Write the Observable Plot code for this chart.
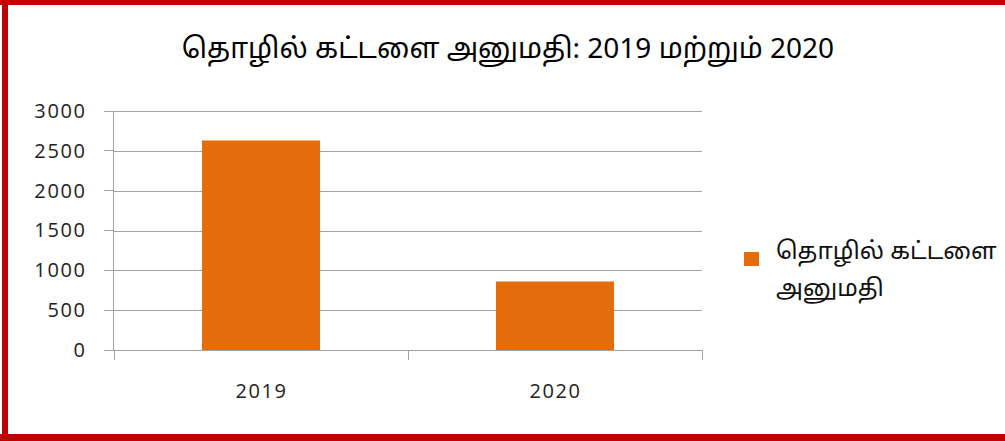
<!DOCTYPE html>
<html>
<head>
<meta charset="utf-8">
<script src="https://cdn.jsdelivr.net/npm/d3@7"></script>
<script src="https://cdn.jsdelivr.net/npm/@observablehq/plot@0.6"></script>
<style>
html, body { margin: 0; padding: 0; background: #fff; }
#wrap { position: relative; width: 1005px; height: 441px; overflow: hidden; background: #fff; }
#chart { position: absolute; left: 0; top: 0; }
#title { position: absolute; left: 8px; width: 1000px; top: 34px; text-align: center;
  font-family: "Noto Sans Tamil", "Latha", "Liberation Sans", Arial, sans-serif; font-size: 28px; color: #000; white-space: nowrap; }
#legend { position: absolute; left: 744px; top: 235px; font-family: "Noto Sans Tamil", "Latha", "Noto Sans", sans-serif; font-size: 24px; color: #111; }
#legend .sw { position: absolute; left: 0; top: 17px; width: 15px; height: 14px; }
#legend .lbl { position: absolute; left: 32px; top: 0; width: 240px; line-height: 37px; }
.bd { position: absolute; background: #C00000; }
</style>
</head>
<body>
<div id="wrap">
  <div id="chart"></div>
  <div id="title"></div>
  <div id="legend"><div class="sw"></div><div class="lbl"></div></div>
  <div class="bd" style="left:2px;top:0;width:6px;height:441px"></div>
  <div class="bd" style="left:0;top:0;width:1005px;height:5px"></div>
  <div class="bd" style="left:0;top:434px;width:1005px;height:7px"></div>
</div>
<script>
const years = ["2019", "2020"];
const permits = [2630, 860];
const yTicks = [0, 500, 1000, 1500, 2000, 2500, 3000];
const titleText = "தொழில் கட்டளை அனுமதி: 2019 மற்றும் 2020";
const seriesName = "தொழில் கட்டளை அனுமதி";
const barColor = "#E46C0A";
const gridColor = "#a3a3a3";

const data = years.map((y, i) => ({year: y, value: permits[i]}));

function axisDecor(index, scales, values, dim) {
  const x = scales.x, y = scales.y;
  const sx = scales.scales && scales.scales.x;
  const bw = sx && sx.bandwidth != null ? sx.bandwidth : (x.bandwidth ? x.bandwidth() : 0);
  const step = sx && sx.step != null ? sx.step : (x.step ? x.step() : 0);
  const g = d3.create("svg:g").attr("stroke", gridColor).attr("stroke-width", 1).attr("fill", "none").attr("shape-rendering", "crispEdges");
  const left = dim.marginLeft, bottom = dim.height - dim.marginBottom, top = dim.marginTop;
  g.append("line").attr("x1", left).attr("x2", left).attr("y1", top).attr("y2", bottom);
  for (const t of yTicks) {
    g.append("line").attr("x1", left - 9).attr("x2", left).attr("y1", y(t)).attr("y2", y(t));
  }
  const bounds = years.map(c => x(c) + bw / 2 - step / 2);
  bounds.push(x(years[years.length - 1]) + bw / 2 + step / 2);
  for (const b of bounds) {
    g.append("line").attr("x1", b).attr("x2", b).attr("y1", bottom).attr("y2", bottom + 10);
  }
  return g.node();
}

const chart = Plot.plot({
  width: 1005,
  height: 441,
  marginLeft: 113,
  marginRight: 303,
  marginTop: 111,
  marginBottom: 91,
  style: {fontFamily: "'Open Sans', Lato, sans-serif", fontSize: "20px", color: "#222", background: "transparent", letterSpacing: "1.6px"},
  x: {domain: years, paddingInner: 0.6, paddingOuter: 0.3, label: null},
  y: {domain: [0, 3000], label: null},
  marks: [
    Plot.ruleY(yTicks, {stroke: gridColor, strokeWidth: 1, shapeRendering: "crispEdges"}),
    Plot.barY(data, {x: "year", y: "value", fill: barColor}),
    axisDecor,
    Plot.axisY({ticks: yTicks, tickFormat: d => String(d), tickSize: 0, tickPadding: 27, fontSize: 20, label: null, fill: "#222"}),
    Plot.axisX({tickSize: 0, tickPadding: 33, fontSize: 20, label: null, fill: "#222"})
  ]
});
document.getElementById("chart").appendChild(chart);
document.getElementById("title").textContent = titleText;
document.querySelector("#legend .sw").style.background = barColor;
document.querySelector("#legend .lbl").textContent = seriesName;
</script>
</body>
</html>
